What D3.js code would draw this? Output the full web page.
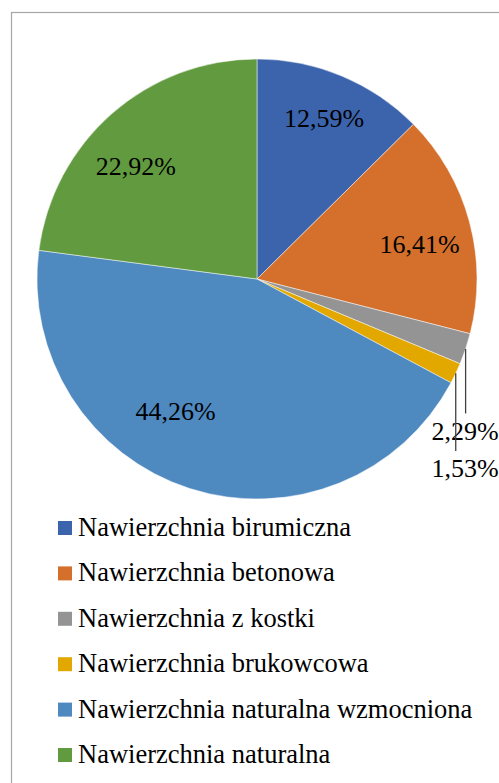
<!DOCTYPE html>
<html>
<head>
<meta charset="utf-8">
<script src="https://cdn.jsdelivr.net/npm/d3@7"></script>
<style>
  html, body { margin: 0; padding: 0; background: #fff; }
  svg { display: block; }
</style>
</head>
<body>
<svg id="fig" width="499" height="783"></svg>
<script>
// Udział rodzajów nawierzchni (%)
const categories = [
  "Nawierzchnia birumiczna",
  "Nawierzchnia betonowa",
  "Nawierzchnia z kostki",
  "Nawierzchnia brukowcowa",
  "Nawierzchnia naturalna wzmocniona",
  "Nawierzchnia naturalna"
];
const values = [12.59, 16.41, 2.29, 1.53, 44.26, 22.92];
const valueLabels = ["12,59%", "16,41%", "2,29%", "1,53%", "44,26%", "22,92%"];
const colors = ["#3c64ac", "#d4702c", "#949494", "#e2a800", "#4e89c0", "#629b3f"];

const FONT = "'Liberation Serif'";

const svg = d3.select("#fig");
const W = 499, H = 783;

// chart area frame (runs off the right and bottom edges)
svg.append("rect")
  .attr("x", 11.5).attr("y", 12.5)
  .attr("width", W + 20).attr("height", H + 20)
  .attr("fill", "none").attr("stroke", "#a6a6a6").attr("stroke-width", 1.2);

const cx = 257, cy = 279, R = 220;
const data = categories.map((c, i) => ({ name: c, value: values[i], label: valueLabels[i], color: colors[i] }));

const pie = d3.pie().value(d => d.value).sort(null);
const arcs = pie(data);
const arc = d3.arc().innerRadius(0).outerRadius(R);
const labelArc = d3.arc().innerRadius(R * 0.78).outerRadius(R * 0.78);

const g = svg.append("g").attr("transform", `translate(${cx},${cy})`);

g.selectAll("path.slice")
  .data(arcs)
  .join("path")
  .attr("class", "slice")
  .attr("d", arc)
  .attr("fill", d => d.data.color)
  .attr("stroke", "#ffffff")
  .attr("stroke-opacity", 0.6)
  .attr("stroke-width", 0.8);

// labels inside the larger slices, nudged off the centroid for best fit
const fontSize = 26;
const nudges = [[1, 6], [-3, 19], [0, 0], [0, 0], [-29, -22], [-8, 24.5]];
const inside = arcs.filter(d => d.data.value > 5);
g.selectAll("text.inlabel")
  .data(inside)
  .join("text")
  .attr("class", "inlabel")
  .style("font-family", FONT)
  .style("font-size", fontSize + "px")
  .attr("text-anchor", "middle")
  .attr("fill", "#000")
  .attr("x", d => labelArc.centroid(d)[0] + nudges[d.index][0])
  .attr("y", d => labelArc.centroid(d)[1] + nudges[d.index][1])
  .text(d => d.data.label);

// small slices: labels stacked below the pie, joined by vertical leader lines
const small = arcs.filter(d => d.data.value <= 5);
const edge = d => {
  const a = (d.startAngle + d.endAngle) / 2;
  return [R * Math.sin(a), -R * Math.cos(a)];
};
const labelX = 465 - cx;
const baselines = [439.5 - cy, 477 - cy];
small.forEach((d, i) => {
  const [ex, ey] = edge(d);
  g.append("line")
    .attr("x1", ex).attr("y1", ey)
    .attr("x2", ex).attr("y2", baselines[i] - 26)
    .attr("stroke", "#404040").attr("stroke-width", 1.3);
  g.append("text")
    .style("font-family", FONT)
    .style("font-size", fontSize + "px")
    .attr("text-anchor", "middle")
    .attr("fill", "#000")
    .attr("x", labelX)
    .attr("y", baselines[i])
    .text(d.data.label);
});

// legend
const legend = svg.append("g").attr("transform", "translate(58,536)");
const rows = legend.selectAll("g")
  .data(data)
  .join("g")
  .attr("transform", (d, i) => `translate(0,${i * 45.4})`);
rows.append("rect")
  .attr("x", 0).attr("y", -15)
  .attr("width", 14).attr("height", 14)
  .attr("fill", d => d.color);
rows.append("text")
  .style("font-family", FONT)
  .style("font-size", "26.5px")
  .attr("fill", "#000")
  .attr("x", 20).attr("y", 0)
  .text(d => d.name);
</script>
</body>
</html>
